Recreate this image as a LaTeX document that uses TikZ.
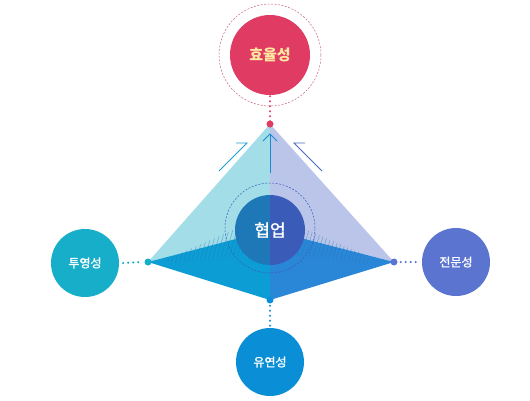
\documentclass[tikz,border=0pt]{standalone}
\usepackage{fontspec}
\setmainfont{Noto Sans CJK KR}
\newfontfamily\medfont{Noto Sans CJK KR}[FakeBold=1.5]
\usetikzlibrary{arrows.meta}
\definecolor{cRed}{HTML}{E03B63}
\definecolor{cRing}{HTML}{C8607F}
\definecolor{cYel}{HTML}{FFE8A0}
\definecolor{cTeal}{HTML}{17AEC9}
\definecolor{cLav}{HTML}{5B74CF}
\definecolor{cBlue}{HTML}{0A8FD6}
\definecolor{cLightL}{HTML}{A2DDE8}
\definecolor{cLightR}{HTML}{BBC5E9}
\definecolor{cDarkL}{HTML}{0C9DD4}
\definecolor{cDarkR}{HTML}{2A86D7}
\definecolor{cMidL}{HTML}{1E78B7}
\definecolor{cMidR}{HTML}{3B5BB8}
\definecolor{cArrL}{HTML}{1A9FCF}
\definecolor{cArrC}{HTML}{1A8BD0}
\definecolor{cArrR}{HTML}{4A69C0}
\tikzset{
  bigc/.style={circle, minimum size=68pt, inner sep=0pt, text=white, font=\medfont\fontsize{12}{14}\selectfont},
  vdot/.style={circle, minimum size=7pt, inner sep=0pt},
  dotline/.style={line width=2.4pt, dash pattern=on 0pt off 5pt, line cap=round},
}
\begin{document}
\begin{tikzpicture}[x=1pt,y=-1pt]
\useasboundingbox (0,0) rectangle (530,400);
% pyramid coordinates
\coordinate (A) at (270,124);
\coordinate (L) at (148,262);
\coordinate (R) at (394,262);
\coordinate (B) at (270,300);
\coordinate (K) at (270,230);
% upper faces
\fill[cLightL] (A) -- (L) -- (K) -- cycle;
\fill[cLightR] (A) -- (R) -- (K) -- cycle;
% lower faces
\fill[cDarkL] (L) -- (K) -- (B) -- cycle;
\fill[cDarkR] (R) -- (K) -- (B) -- cycle;
% hatching near the back edges
\begin{scope}
  \clip (165,260) -- (270,214) -- (377,260) -- (377,262) -- (270,231) -- (165,262) -- cycle;
  \foreach \i in {0,4,...,260}{
    \draw[cMidL, opacity=0.45, line width=0.6pt] (140+\i,275) -- (160+\i,205);
  }
\end{scope}
\begin{scope}
  \clip (170,261) -- (270,231) -- (370,261) -- (370,264) -- (270,252) -- (170,264) -- cycle;
  \foreach \i in {0,4,...,260}{
    \draw[cMidL, opacity=0.4, line width=0.6pt] (140+\i,275) -- (160+\i,205);
  }
\end{scope}
% arrows on upper faces
\draw[cArrL, line width=0.9pt] (219,171) -- (247,143) -- (236,143);
\draw[cArrR, line width=0.9pt] (322,171) -- (294,143) -- (305,143);
\draw[cArrC, line width=0.9pt] (270,173) -- (270,134);
\draw[cArrC, line width=0.9pt] (263,141) -- (270,134) -- (277,141);
% center
\draw[cMidR, line width=0.5pt, dash pattern=on 2pt off 1.5pt] (270,228) circle (45pt);
\fill[cMidL] (270,195) arc (90:270:35pt) -- cycle;
\fill[cMidR] (270,195) arc (90:-90:35pt) -- cycle;
\node[text=white, font=\medfont\fontsize{17}{19}\selectfont] (hub) at (270,230) {협업};
% vertex dots
\node[vdot, fill=cRed] (dA) at (A) {};
\node[vdot, fill=cTeal] (dL) at (L) {};
\node[vdot, fill=cLav] (dR) at (R) {};
\node[vdot, fill=cBlue] (dB) at (B) {};
% outer circles
\draw[cRing, line width=0.5pt, dash pattern=on 2pt off 1.5pt] (270,55) circle (51pt);
\node[bigc, fill=cRed, minimum size=80pt, text=cYel, font=\fontsize{15}{17}\selectfont\bfseries] (top) at (270,55) {효율성};
\node[bigc, fill=cTeal] (left) at (85,263) {투영성};
\node[bigc, fill=cLav] (right) at (456,262) {전문성};
\node[bigc, fill=cBlue] (bottom) at (270,362) {유연성};
% dotted connectors
\draw[cRed, dotline] ([yshift=4pt]top.south) -- ([yshift=-4pt]dA.north);
\draw[cTeal, dotline] ([xshift=4pt]left.east) -- ([xshift=-3pt]dL.west);
\draw[cLav, dotline] ([xshift=3pt]dR.east) -- ([xshift=-4pt]right.west);
\draw[cBlue, dotline] ([yshift=3pt]dB.south) -- ([yshift=-3pt]bottom.north);
\end{tikzpicture}
\end{document}
